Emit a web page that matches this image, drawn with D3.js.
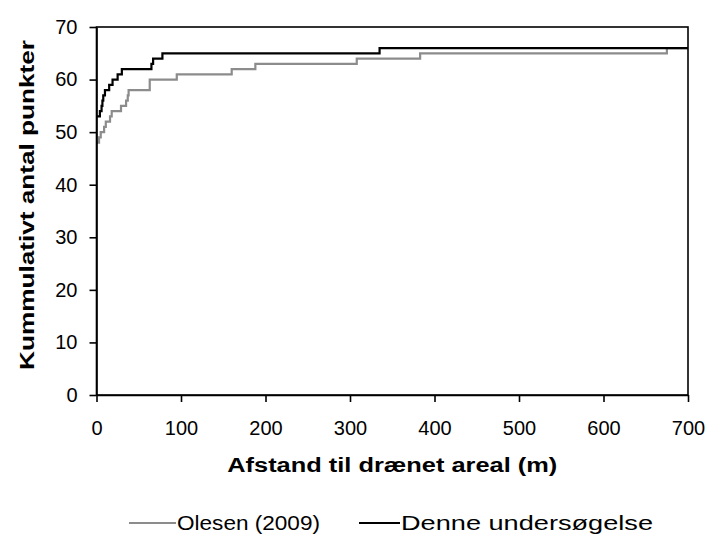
<!DOCTYPE html>
<html>
<head>
<meta charset="utf-8">
<script src="https://cdn.jsdelivr.net/npm/d3@7"></script>
<style>
  html, body { margin: 0; padding: 0; background: #fff; }
  svg { display: block; }
  text { font-family: "Liberation Sans", "DejaVu Sans", sans-serif; fill: #000; }
</style>
</head>
<body>
<svg id="chart" width="710" height="544"></svg>
<script>
// Cumulative number of points versus distance to drained area (step curves)
const olesenDist   = [0, 3, 5, 9, 11, 16, 18, 29, 35, 37, 38, 63, 95, 160, 188, 308, 383, 675, 700];
const olesenCount  = [48, 49, 50, 51, 52, 53, 54, 55, 56, 57, 58, 60, 61, 62, 63, 64, 65, 66, 66];
const denneDist    = [0, 4, 6, 7, 8, 10, 15, 19, 25, 30, 65, 67, 78, 335, 700];
const denneCount   = [53, 54, 55, 56, 57, 58, 59, 60, 61, 62, 63, 64, 65, 66, 66];
const xTicks = [0, 100, 200, 300, 400, 500, 600, 700];
const yTicks = [0, 10, 20, 30, 40, 50, 60, 70];
const seriesNames = ["Olesen (2009)", "Denne undersøgelse"];
const seriesColors = ["#8c8c8c", "#000000"];

const svg = d3.select("#chart");
const margin = { left: 96.5, right: 22, top: 27, bottom: 149 };
const W = 710, H = 544;

const x = d3.scaleLinear().domain([0, 700]).range([margin.left, W - margin.right]);
const y = d3.scaleLinear().domain([0, 70]).range([H - margin.bottom, margin.top]);

const series = [
  olesenDist.map((d, i) => [d, olesenCount[i]]),
  denneDist.map((d, i) => [d, denneCount[i]])
];

// Step lines
const line = d3.line().x(d => x(d[0])).y(d => y(d[1])).curve(d3.curveStepAfter);
series.forEach((s, i) => {
  svg.append("path")
    .datum(s)
    .attr("d", line)
    .attr("fill", "none")
    .attr("stroke", seriesColors[i])
    .attr("stroke-width", 2.2);
});

// Plot frame
svg.append("rect")
  .attr("x", x(0)).attr("y", y(70))
  .attr("width", x(700) - x(0)).attr("height", y(0) - y(70))
  .attr("fill", "none").attr("stroke", "#000").attr("stroke-width", 1.6);

// Axes
const xAxis = svg.append("g")
  .attr("transform", `translate(0,${y(0)})`)
  .call(d3.axisBottom(x).tickValues(xTicks).tickSize(7).tickSizeOuter(0).tickPadding(19));
const yAxis = svg.append("g")
  .attr("transform", `translate(${x(0)},0)`)
  .call(d3.axisLeft(y).tickValues(yTicks).tickSize(7).tickSizeOuter(0).tickPadding(12));
[xAxis, yAxis].forEach(g => {
  g.select(".domain").attr("stroke", "#000").attr("stroke-width", 1.6);
  g.selectAll(".tick line").attr("stroke", "#000").attr("stroke-width", 1.6);
  g.selectAll(".tick text").style("font-size", "20px").attr("fill", "#000");
});

// Axis titles
svg.append("text")
  .attr("x", (x(0) + x(700)) / 2).attr("y", 472)
  .attr("text-anchor", "middle")
  .attr("textLength", 330).attr("lengthAdjust", "spacingAndGlyphs")
  .style("font-size", "20px").style("font-weight", "bold")
  .text("Afstand til drænet areal (m)");
svg.append("text")
  .attr("transform", `translate(34,${(y(0) + y(70)) / 2 - 6}) rotate(-90)`)
  .attr("text-anchor", "middle")
  .attr("textLength", 330).attr("lengthAdjust", "spacingAndGlyphs")
  .style("font-size", "20px").style("font-weight", "bold")
  .text("Kummulativt antal punkter");

// Legend
const legendItems = [
  { x0: 129, x1: 176, w: 143 },
  { x0: 359, x1: 400, w: 252 }
];
const ly = 523;
legendItems.forEach((it, i) => {
  svg.append("line")
    .attr("x1", it.x0).attr("x2", it.x1).attr("y1", ly).attr("y2", ly)
    .attr("stroke", seriesColors[i]).attr("stroke-width", 2.2);
  svg.append("text")
    .attr("x", it.x1 + 1).attr("y", ly + 7)
    .attr("textLength", it.w).attr("lengthAdjust", "spacingAndGlyphs")
    .style("font-size", "20px")
    .text(seriesNames[i]);
});
</script>
</body>
</html>
